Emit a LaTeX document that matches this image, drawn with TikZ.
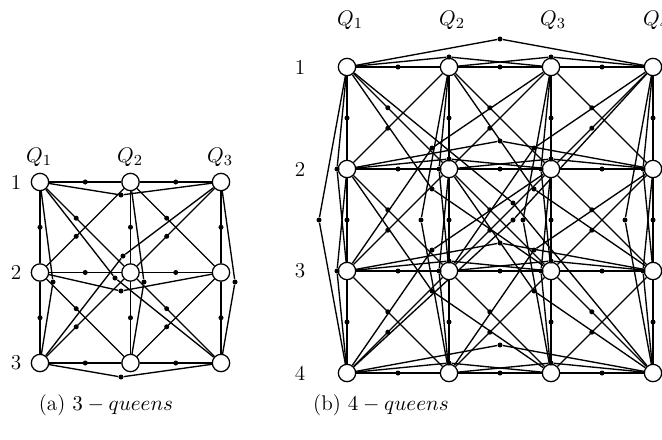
\documentclass[tikz,border=0pt]{standalone}
\usetikzlibrary{backgrounds,calc}
\begin{document}
\begin{tikzpicture}[x=0.5185pt,y=-0.5185pt,
  qn/.style={circle,draw,fill=white,line width=0.65pt,minimum size=9pt,inner sep=0pt},
  dt/.style={circle,fill=black,minimum size=2.6pt,inner sep=0pt},
  ed/.style={line width=0.7pt},
  lbl/.style={inner sep=0pt,font=\fontsize{11}{13}\selectfont}]
\useasboundingbox (0,0) rectangle (662,439);

% ================= (a) 3-queens =================
\foreach \r/\y in {1/182,2/272.5,3/363}{
  \foreach \c/\x in {1/40,2/130.5,3/221}{
    \node[qn] (a\r\c) at (\x,\y) {};
  }
}
\node[lbl] (aQ1) at (39,157) {$Q_1$};
\node[lbl] (aQ2) at (130,157) {$Q_2$};
\node[lbl] (aQ3) at (220,157) {$Q_3$};
\node[lbl] (aR1) at (16,182) {1};
\node[lbl] (aR2) at (16,272.5) {2};
\node[lbl] (aR3) at (16,363) {3};
\node[lbl] (capa) at (106,405) {(a) $3-queens$};

\foreach \r in {1,2,3}{
  \node[dt] (ah\r1) at ($(a\r1)!0.5!(a\r2)$) {};
  \node[dt] (ah\r2) at ($(a\r2)!0.5!(a\r3)$) {};
  \node[dt] (av1\r) at ($(a1\r)!0.5!(a2\r)$) {};
  \node[dt] (av2\r) at ($(a2\r)!0.5!(a3\r)$) {};
}
\node[dt] (arb1) at (121,195) {};
\node[dt] (arb2) at (121,291) {};
\node[dt] (arb3) at (121,377) {};
\node[dt] (acb1) at (53,282) {};
\node[dt] (acb2) at (144,282) {};
\node[dt] (acb3) at (235,282) {};
\node[dt] (aDm) at (115,278) {};
\node[dt] (aDa) at (123,256) {};
\foreach \r/\rn in {1/2,2/3}{\foreach \c/\cn in {1/2,2/3}{
  \node[dt] (adm\r\c) at ($(a\r\c)!0.4!(a\rn\cn)$) {};
  \node[dt] (ada\r\c) at ($(a\rn\c)!0.4!(a\r\cn)$) {};
}}

\begin{scope}[on background layer]
\foreach \r in {1,2,3}{
  \draw[ed] (a\r1) -- (a\r2);
  \draw[ed] (a\r2) -- (a\r3);
  \draw[ed] (a\r1) -- (arb\r) -- (a\r3);
  \draw[ed] (a1\r) -- (a2\r);
  \draw[ed] (a2\r) -- (a3\r);
  \draw[ed] (a1\r) -- (acb\r) -- (a3\r);
}
\foreach \r/\rn in {1/2,2/3}{\foreach \c/\cn in {1/2,2/3}{
  \draw[ed] (a\r\c) -- (a\rn\cn);
  \draw[ed] (a\rn\c) -- (a\r\cn);
}}
\draw[ed] (a11) -- (aDm) -- (a33);
\draw[ed] (a31) -- (aDa) -- (a13);
\end{scope}

% ================= (b) 4-queens =================
\foreach \r/\y in {1/67,2/169,3/271,4/373}{
  \foreach \c/\x in {1/347,2/449,3/551,4/653}{
    \node[qn] (b\r\c) at (\x,\y) {};
  }
}
\node[lbl] (bQ1) at (350,20) {$Q_1$};
\node[lbl] (bQ2) at (452,20) {$Q_2$};
\node[lbl] (bQ3) at (553,20) {$Q_3$};
\node[lbl] (bQ4) at (656,20) {$Q_4$};
\node[lbl] (bR1) at (300,67) {1};
\node[lbl] (bR2) at (300,169) {2};
\node[lbl] (bR3) at (300,271) {3};
\node[lbl] (bR4) at (300,373) {4};
\node[lbl] (capb) at (381,405) {(b) $4-queens$};

\foreach \r/\y in {1/67,2/169,3/271,4/373}{
  \node[dt] (brA\r) at (449,\y-10) {};
  \node[dt] (brB\r) at (551,\y-10) {};
  \node[dt] (brC\r) at (500,\y-28) {};
}
\foreach \c/\x in {1/347,2/449,3/551,4/653}{
  \node[dt] (bcA\c) at (\x-10,169) {};
  \node[dt] (bcB\c) at (\x-10,271) {};
  \node[dt] (bcC\c) at (\x-28,220) {};
}
\foreach \r in {1,2,3,4}{\foreach \c/\cn in {1/2,2/3,3/4}{
  \node[dt] (bh\r\c) at ($(b\r\c)!0.5!(b\r\cn)$) {};
  \node[dt] (bv\c\r) at ($(b\c\r)!0.5!(b\cn\r)$) {};
}}
\foreach \r/\rn in {1/2,2/3,3/4}{\foreach \c/\cn in {1/2,2/3,3/4}{
  \node[dt] (bdm\r\c) at ($(b\r\c)!0.4!(b\rn\cn)$) {};
  \node[dt] (bda\r\c) at ($(b\rn\c)!0.4!(b\r\cn)$) {};
}}
\foreach \r/\rm in {1/2,2/3}{\foreach \c/\cm in {1/2,2/3}{
  \node[dt] (bDm\r\c) at ($(b\rm\cm)+(-17,20)$) {};
  \node[dt] (bDa\r\c) at ($(b\rm\cm)+(-17,-21)$) {};
}}
\node[dt] (bLm) at (513,203) {};
\node[dt] (bLa) at (513,220) {};

\begin{scope}[on background layer]
\foreach \r in {1,2,3,4}{
  \draw[ed] (b\r1) -- (b\r2);
  \draw[ed] (b\r2) -- (b\r3);
  \draw[ed] (b\r3) -- (b\r4);
  \draw[ed] (b\r1) -- (brA\r) -- (b\r3);
  \draw[ed] (b\r2) -- (brB\r) -- (b\r4);
  \draw[ed] (b\r1) -- (brC\r) -- (b\r4);
  \draw[ed] (b1\r) -- (b2\r);
  \draw[ed] (b2\r) -- (b3\r);
  \draw[ed] (b3\r) -- (b4\r);
  \draw[ed] (b1\r) -- (bcA\r) -- (b3\r);
  \draw[ed] (b2\r) -- (bcB\r) -- (b4\r);
  \draw[ed] (b1\r) -- (bcC\r) -- (b4\r);
}
\foreach \r/\rn in {1/2,2/3,3/4}{\foreach \c/\cn in {1/2,2/3,3/4}{
  \draw[ed] (b\r\c) -- (b\rn\cn);
  \draw[ed] (b\rn\c) -- (b\r\cn);
}}
\foreach \r/\rn in {1/3,2/4}{\foreach \c/\cn in {1/3,2/4}{
  \draw[ed] (b\r\c) -- (bDm\r\c) -- (b\rn\cn);
  \draw[ed] (b\rn\c) -- (bDa\r\c) -- (b\r\cn);
}}
\draw[ed] (b11) -- (bLm) -- (b44);
\draw[ed] (b41) -- (bLa) -- (b14);
\end{scope}
\end{tikzpicture}
\end{document}
